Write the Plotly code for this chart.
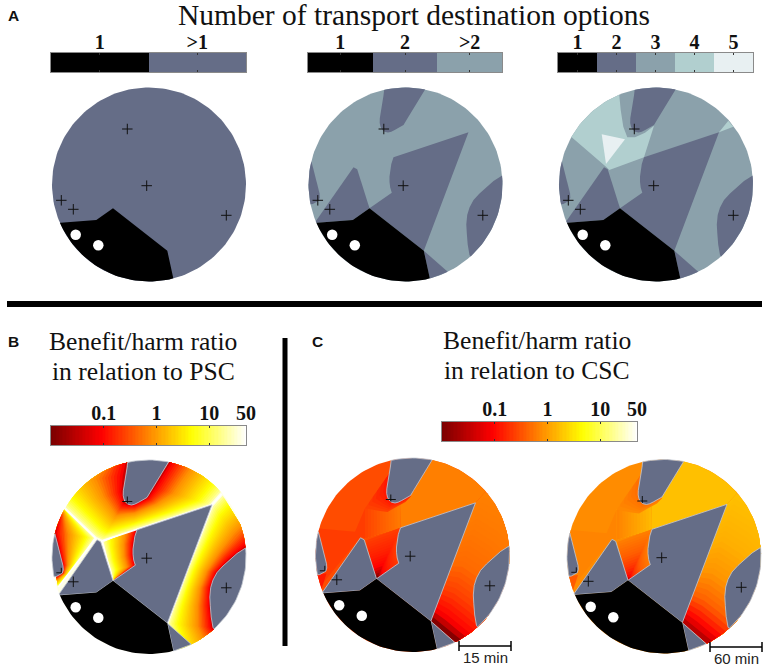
import math
import numpy as np
import plotly.graph_objects as go

# ---- disc layout (page centre of each map) ----
R = 97
A1, A2, A3 = (149, 184.5), (405.5, 184.5), (656, 184.5)
B1 = (149, 557)
C1, C2 = (412.5, 555), (664, 556.5)

# ---- region outlines, relative to the disc centre ----
TOP_LOBE = [(-21, -97.8), (-22, -89), (-23.3, -81.2), (-24.8, -73), (-25.7, -66.2), (-25.8, -61.5), (-25, -57.8),
            (-23.5, -55), (-21, -52.8), (-17.5, -52), (-14.3, -52.8), (-10.8, -54.5), (-7.7, -56.2), (-4.7, -57.5),
            (-2, -59.5), (1, -64.5), (4, -69.5), (8, -76), (12.3, -82.8), (22.3, -99.5)]
WEDGE = [(63, -52.2), (-12, -27.2), (-14.2, -20.5), (-15.3, -14.5), (-16, -8), (-16, -2.8), (-15.3, 3), (-13.7, 8.2),
         (-36, 23.8), (18.3, 66.2)]
LEFT_LOW = [(-90.7, 38.2), (-52, -17.2), (-48.3, -15.2), (-36, 23.8), (-52.7, 35.5), (-88.3, 38.2)]
LEFT_LOBE = [(-100, -26), (-94.3, -23.8), (-92, -15), (-90, -7.8), (-88, 0), (-86, 8.8), (-85.7, 13), (-86.7, 16.2),
             (-92.7, 19.5), (-99.3, 20.5)]
RIGHT_LOBE = [(102.3, -14.5), (96.3, -8.8), (88, -3.5), (80.7, 2.8), (74, 9), (68, 15.5), (64, 23), (61.7, 30.5),
              (60.8, 40), (61.3, 48.8), (62.2, 60), (64, 70.5), (70.7, 78.8), (102, 45)]
SLIVER = [(18.3, 66.2), (41.7, 86.2), (48, 100), (26, 106), (24.3, 93.8)]
BLACK_ZONE = [(-100, 39), (-88.3, 38.2), (-52.7, 35.5), (-36, 23.8), (18.3, 66.2), (24.3, 93.8), (26, 106),
              (-60, 110), (-110, 60)]
LEVEL4_MAIN = [(-37.7, -99.5), (-35.3, -74.5), (-32.7, -57.8), (-28.7, -47.2), (-21, -47.2), (-11, -51.8),
               (-2, -58.8), (-12, -27.2), (-46.7, -14.5), (-50, -17.8), (-84.3, -47.2), (-94.3, -56.2),
               (-79.3, -99.5)]
LEVEL4_SMALL = [(63, -52.2), (72.3, -63.8), (77.3, -57.8)]
LEVEL5 = [(-54.3, -50.2), (-31, -45.2), (-50, -20.5)]

SITE_X = [-21.7, -2.3, -87.7, -75.7, 77.3]
SITE_Y = [-55.5, 1.2, 15.8, 24.8, 30.8]
FULL_SITES = [1, 3, 4]
DOT_X = [-73.3, -50.7]
DOT_Y = [50.2, 60.8]

# ---- colours ----
BLACK, SLATE, L3, L4, L5 = "#000000", "#656d87", "#8ba1ab", "#b1cfcf", "#e8f0f2"
HOT_POS = [0, 0.26, 0.54, 0.72, 1]
HOT_COL = ["#7a0000", "#ff0000", "#ff9c00", "#ffff00", "#ffffff"]

# ---- colour strips in panel B: inner edge / outer edge pairs ----
T_IN = [(-21, -97.8), (-23.3, -81.2), (-25.7, -66.2), (-25, -57.8), (-25, -55), (-21, -52.8), (-14.3, -52.8),
        (-7.7, -56.2), (-2, -59.5), (4, -69.5), (12.3, -82.8), (22.3, -99.5)]
T_OUT = [(-80, -115), (-112, -72), (-84, -48), (-53.3, -18.7), (-47.3, -16), (-21, -24.6), (-14.3, -26.8),
         (0, -31.5), (25, -39.7), (63, -52.2), (72.7, -63), (92, -86)]
L_IN = [(-88, -48), (-94.3, -23.8), (-90, -7.8), (-86, 8.8), (-86.7, 16.2), (-92.7, 19.5)]
L_OUT = [(-84, -48), (-53.3, -18.7), (-62, -7), (-72, 6.5), (-80, 17), (-91, 30)]
M_IN = [(-12, -27.2), (-15.3, -14.5), (-16, -2.8), (-13.7, 8.2), (-36, 23.8)]
M_OUT = [(-46.7, -14.5), (-45, -8), (-42, 4), (-38.5, 14), (-36, 23.8)]
R_IN = [(102.3, -14.5), (96.3, -8.8), (80.7, 2.8), (68, 15.5), (61.7, 30.5), (61.3, 48.8), (64, 70.5), (70.7, 78.8)]
R_OUT = [(72.7, -63), (63, -52.2), (50, -18), (38, 12), (31, 32), (24, 50), (18.3, 66.2), (30, 105)]
B_T = [0, 0.07, 0.36, 0.78, 0.96, 1]
B_C = ["#a00000", "#ff0000", "#ff9000", "#ffff00", "#ffff90", "#ffffe8"]
RIDGES = [[(-84, -48), (-53.3, -18.7), (-90.7, 30)], [(72.7, -63), (63, -52.2), (18.3, 66.2)],
          [(63, -52.2), (-47.3, -16), (-36, 23.8)]]

# ---- colour facets in panel C ----
CR_IN = [(18.3, 66.2), (30, 76), (41.7, 86.2), (60, 100)]
CR_OUT = [(63, -52.2), (72.7, -63), (95, -50), (112, -30)]
CM_IN = [(-36, 23.8)] * 6
CM_OUT = [(-46.7, -14.5), (-30, -21), (-12, -27.2), (-15.3, -14.5), (-16, -2.8), (-13.7, 8.2)]
FAN_IN = [(-47.5, -46.7), (-47.5, -16.7)]
FAN_OUT = [(-12.5, -55), (-12, -27.2)]
CRES_IN = [(-23.3, -81.2), (-25.7, -66.2), (-25, -57.8), (-21, -52.8), (-14.3, -52.8), (-7.7, -56.2), (-2, -59.5)]
CRES_OUT = [(-47.5, -46.7), (-47.5, -46.7), (-32.5, -44), (-25, -43), (-15.8, -48.3), (-7, -53), (-2.5, -57.7)]
C_RIGHT = [(-2, -59.5), (4, -69.5), (12.3, -82.8), (22.3, -99.5), (60, -110), (90, -80), (72.7, -63), (63, -52.2),
           (-12, -27.2), (-12.5, -55)]
C_LOWLEFT = [(-110, -28), (-57.5, -23.3), (-47.5, -46.7), (-47.5, -16.7), (-52, -18), (-91, 30), (-110, 30)]
C_TIP = [(-100, 20), (-86, 18.5), (-91, 34), (-100, 40)]
PAL_C1 = dict(base="#ff4c00", low="#ff3c00", right="#ff7f00", tip="#ff1800",
              fan=["#ff4000", "#ff7800"], cres=["#ff1000", "#ff4000"],
              m_t=[0, 0.12, 0.3, 0.6, 1], m_c=["#300000", "#a00000", "#ff0000", "#ff2000", "#ff3c00"],
              r_t=[0, 0.05, 0.12, 0.3, 0.5, 0.75, 1],
              r_c=["#300000", "#a00000", "#ff0000", "#ff4000", "#ff6a00", "#ff7800", "#ff8000"])
PAL_C2 = dict(base="#ff8c00", low="#ff8400", right="#ffc000", tip="#ff5a00",
              fan=["#ff8000", "#ffb800"], cres=["#ff6a00", "#ff8800"],
              m_t=[0, 0.1, 0.3, 0.6, 1], m_c=["#600000", "#ff0000", "#ff3000", "#ff5c00", "#ff7c00"],
              r_t=[0, 0.04, 0.1, 0.25, 0.45, 0.7, 1],
              r_c=["#400000", "#c00000", "#ff0000", "#ff6000", "#ff9500", "#ffb000", "#ffc000"])

# ---- legends ----
A1_CATS, A1_COLS = ["1", ">1"], [BLACK, SLATE]
A2_CATS, A2_COLS = ["1", "2", ">2"], [BLACK, SLATE, L3]
A3_CATS, A3_COLS = ["1", "2", "3", "4", "5"], [BLACK, SLATE, L3, L4, L5]
RATIO_TICKS = [0.1, 1, 10, 50]
RATIO_LABELS = ["0.1", "1", "10", "50"]
RATIO_MIN, RATIO_MAX = 0.01, 50

# ---- helpers ----
CIRCLE = [(R * math.cos(a), R * math.sin(a)) for a in np.linspace(0, 2 * math.pi, 180, endpoint=False)]


def clip(poly):
    out = list(poly)
    for i in range(len(CIRCLE)):
        ax, ay = CIRCLE[i]
        bx, by = CIRCLE[(i + 1) % len(CIRCLE)]
        inside = lambda p: (bx - ax) * (p[1] - ay) - (by - ay) * (p[0] - ax) >= 0
        new = []
        for j, cur in enumerate(out):
            prev = out[j - 1]
            ci, pi = inside(cur), inside(prev)
            if ci != pi:
                d1 = (bx - ax) * (prev[1] - ay) - (by - ay) * (prev[0] - ax)
                d2 = (bx - ax) * (cur[1] - ay) - (by - ay) * (cur[0] - ax)
                u = d1 / (d1 - d2)
                new.append((prev[0] + u * (cur[0] - prev[0]), prev[1] + u * (cur[1] - prev[1])))
            if ci:
                new.append(cur)
        out = new
        if not out:
            break
    return out


def rgb(h):
    return tuple(int(h[i:i + 2], 16) for i in (1, 3, 5))


def mix(t, ts, cs):
    cols = [rgb(c) for c in cs]
    return "rgb(%d,%d,%d)" % tuple(np.interp(t, ts, [c[k] for c in cols]) for k in range(3))


fig = go.Figure()


def fill(centre, poly, colour, edge=None):
    pts = clip(poly)
    if not pts:
        return
    pts = pts + [pts[0]]
    line = dict(width=0.8, color=edge) if edge else dict(width=0)
    fig.add_trace(go.Scatter(x=[centre[0] + p[0] for p in pts], y=[centre[1] + p[1] for p in pts],
                             mode="lines", fill="toself", fillcolor=colour, line=line,
                             hoverinfo="skip", showlegend=False))


def strips(centre, inner, outer, ts, cs, n):
    for t in np.linspace(1, 0, n, endpoint=False):
        level = [(a[0] + t * (b[0] - a[0]), a[1] + t * (b[1] - a[1])) for a, b in zip(inner, outer)]
        fill(centre, list(inner) + level[::-1], mix(t, ts, cs))


def slate_regions(centre, edge=None):
    for poly in (TOP_LOBE, WEDGE, LEFT_LOW, LEFT_LOBE, RIGHT_LOBE, SLIVER):
        fill(centre, poly, SLATE, edge)


def black_and_sites(centre, indices):
    fill(centre, BLACK_ZONE, BLACK)
    fig.add_trace(go.Scatter(x=[centre[0] + v for v in DOT_X], y=[centre[1] + v for v in DOT_Y], mode="markers",
                             marker=dict(color="white", size=10.5, line=dict(width=0)),
                             hoverinfo="skip", showlegend=False))
    fig.add_trace(go.Scatter(x=[centre[0] + SITE_X[i] for i in indices], y=[centre[1] + SITE_Y[i] for i in indices],
                             mode="markers", marker=dict(symbol="cross-thin", size=7.5,
                                                         line=dict(width=1, color="#111111")),
                             hoverinfo="skip", showlegend=False))


def partial_sites(centre):
    # the two sites that sit at a region's edge are cut off by the colour field
    xs, ys = [], []
    sx, sy = centre[0] + SITE_X[0], centre[1] + SITE_Y[0]
    xs += [sx - 5, sx + 5, None, sx, sx, None]
    ys += [sy, sy, None, sy - 5, sy + 2, None]
    sx, sy = centre[0] + SITE_X[2], centre[1] + SITE_Y[2]
    xs += [sx - 5, sx, None, sx, sx]
    ys += [sy, sy, None, sy - 5, sy]
    fig.add_trace(go.Scatter(x=xs, y=ys, mode="lines", line=dict(color="#111111", width=1),
                             hoverinfo="skip", showlegend=False))


# ---- panel A ----
fill(A1, CIRCLE, SLATE)
black_and_sites(A1, range(5))

fill(A2, CIRCLE, L3)
slate_regions(A2)
black_and_sites(A2, range(5))

fill(A3, CIRCLE, L3)
fill(A3, LEVEL4_MAIN, L4)
fill(A3, LEVEL4_SMALL, L4)
fill(A3, LEVEL5, L5)
slate_regions(A3)
black_and_sites(A3, range(5))

# ---- panel B ----
fill(B1, CIRCLE, "#ffffe8")
strips(B1, T_IN, T_OUT, B_T, B_C, 30)
strips(B1, L_IN, L_OUT, B_T, B_C, 24)
strips(B1, M_IN, M_OUT, B_T, B_C, 24)
strips(B1, R_IN, R_OUT, B_T, B_C, 30)
for ridge in RIDGES:
    fig.add_trace(go.Scatter(x=[B1[0] + p[0] for p in ridge], y=[B1[1] + p[1] for p in ridge], mode="lines",
                             line=dict(color="#ffffff", width=1.5), hoverinfo="skip", showlegend=False))
slate_regions(B1, "#c3c8d2")
partial_sites(B1)
black_and_sites(B1, FULL_SITES)

# ---- panel C ----
for centre, pal in ((C1, PAL_C1), (C2, PAL_C2)):
    fill(centre, CIRCLE, pal["base"])
    fill(centre, C_LOWLEFT, pal["low"])
    fill(centre, C_TIP, pal["tip"])
    strips(centre, CR_IN, CR_OUT, pal["r_t"], pal["r_c"], 26)
    fill(centre, C_RIGHT, pal["right"])
    strips(centre, FAN_IN, FAN_OUT, [0, 1], pal["fan"], 12)
    strips(centre, CRES_IN, CRES_OUT, [0, 1], pal["cres"], 6)
    strips(centre, CM_IN, CM_OUT, pal["m_t"], pal["m_c"], 16)
    slate_regions(centre, "#c3c8d2")
    partial_sites(centre)
    black_and_sites(centre, FULL_SITES)

# ---- scale bars ----
for xs, y, label in (([459, 511], 646, "15 min"), ([710, 762], 647, "60 min")):
    fig.add_trace(go.Scatter(x=xs, y=[y, y], mode="lines+markers", line=dict(color="black", width=1.5),
                             marker=dict(symbol="line-ns", size=7, line=dict(width=1.5, color="black")),
                             hoverinfo="skip", showlegend=False))
    fig.add_annotation(x=sum(xs) / 2, y=y + 11.5, text=label, showarrow=False,
                       font=dict(family="Liberation Sans", size=15, color="#222222"))

W, H = 765, 667
layout_axes = {}
axis_no = [1]


def bar_axes(x0, x1, y0, y1, standoff):
    axis_no[0] += 1
    n = axis_no[0]
    common = dict(showline=True, linecolor="#8a8a8a", linewidth=1, mirror="allticks", showgrid=False,
                  zeroline=False, fixedrange=True, automargin=False)
    layout_axes[f"xaxis{n}"] = dict(domain=[x0 / W, x1 / W], anchor=f"y{n}", side="top", ticks="inside", ticklen=2,
                                    tickwidth=1, tickcolor="#333333", ticklabelstandoff=standoff,
                                    tickfont=dict(family="Liberation Serif", size=20, color="#111111"),
                                    **common)
    layout_axes[f"yaxis{n}"] = dict(domain=[1 - y1 / H, 1 - y0 / H], anchor=f"x{n}", showticklabels=False,
                                    ticks="", range=[-0.5, 0.5], **common)
    return f"x{n}", f"y{n}", n


for cats, cols, (x0, x1) in ((A1_CATS, A1_COLS, (51, 246)), (A2_CATS, A2_COLS, (308, 502)),
                             (A3_CATS, A3_COLS, (558, 753))):
    xa, ya, n = bar_axes(x0, x1, 53, 72, -5)
    k = len(cats)
    fig.add_trace(go.Heatmap(x=cats, y=[0], z=[list(range(k))], zmin=0, zmax=k - 1, showscale=False, xaxis=xa,
                             yaxis=ya, hoverinfo="skip",
                             colorscale=[[i / (k - 1), c] for i, c in enumerate(cols)]))
    layout_axes[f"xaxis{n}"].update(type="category", tickvals=cats,
                                    ticktext=[f"<b>{c}</b>" for c in cats], range=[-0.5, k - 0.5])

ramp = np.logspace(math.log10(RATIO_MIN), math.log10(RATIO_MAX), 60)
for (x0, x1, y0, y1) in ((51, 246, 426, 445), (442, 637, 422, 441)):
    xa, ya, n = bar_axes(x0, x1, y0, y1, -3)
    fig.add_trace(go.Heatmap(x=ramp, y=[0], z=[list(np.log10(ramp))], showscale=False, xaxis=xa, yaxis=ya,
                             hoverinfo="skip", zmin=math.log10(RATIO_MIN), zmax=math.log10(RATIO_MAX),
                             colorscale=[[p, c] for p, c in zip(HOT_POS, HOT_COL)]))
    layout_axes[f"xaxis{n}"].update(type="log", tickvals=RATIO_TICKS,
                                    ticktext=[f"<b>{t}</b>" for t in RATIO_LABELS],
                                    range=[math.log10(RATIO_MIN), math.log10(RATIO_MAX)])

# ---- text ----
SERIF = "Liberation Serif"
TITLES = [(414, 15, "Number of transport destination options", 29.5),
          (143, 341, "Benefit/harm ratio", 25.6), (143, 371, "in relation to PSC", 25.6),
          (537, 340, "Benefit/harm ratio", 25.6), (537, 370, "in relation to CSC", 25.6)]
for x, y, t, s in TITLES:
    fig.add_annotation(x=x, y=y, text=t, showarrow=False, font=dict(family=SERIF, size=s, color="#111111"))
for x, y, t in ((13, 15, "A"), (13, 341, "B"), (317, 341, "C")):
    fig.add_annotation(x=x, y=y, text=f"<b>{t}</b>", showarrow=False,
                       font=dict(family="Liberation Sans", size=15.5, color="#111111"))

fig.update_layout(
    template="none",
    width=W, height=H, margin=dict(l=0, r=0, t=0, b=0, pad=0), paper_bgcolor="white", plot_bgcolor="rgba(0,0,0,0)",
    showlegend=False,
    xaxis=dict(domain=[0, 1], range=[0, W], visible=False, fixedrange=True, automargin=False),
    yaxis=dict(domain=[0, 1], range=[H, 0], visible=False, fixedrange=True, automargin=False),
    shapes=[dict(type="rect", xref="x", yref="y", x0=7, x1=762, y0=301, y1=307, fillcolor="black", line_width=0),
            dict(type="rect", xref="x", yref="y", x0=282.5, x1=287.5, y0=338, y1=646, fillcolor="black", line_width=0)],
    **layout_axes)

fig.write_html("out.html", config=dict(displayModeBar=False),
               post_script="document.body.style.margin='0';document.body.style.overflow='hidden';")
